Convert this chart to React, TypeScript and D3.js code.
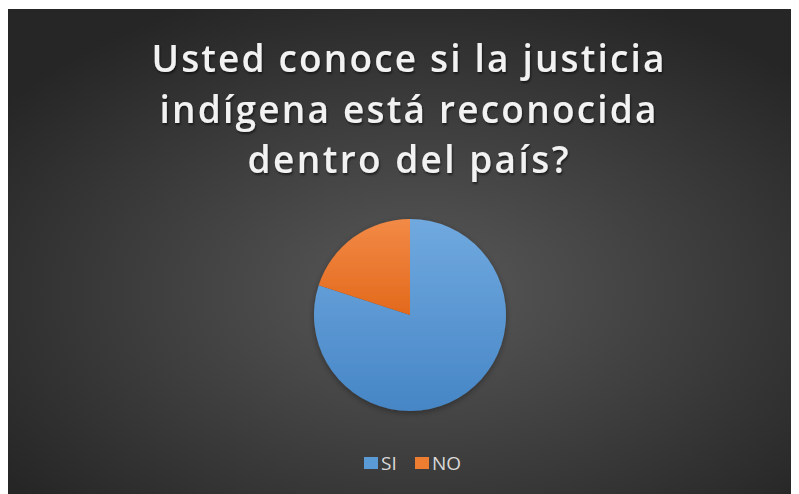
import React from "react";
import * as d3 from "d3";

const titleLines = ["Usted conoce si la justicia", "indígena está reconocida", "dentro del país?"];
const categories = ["SI", "NO"];
const values = [80, 20];
const colors = ["#5b9bd5", "#ed7d31"];
const colorsLight = ["#70a9df", "#f28a46"];
const colorsDark = ["#4686c6", "#e3691c"];

const W = 790;
const H = 486;
const titleWidths = [513, 497, 321];

export default function App() {
  const cx = 402;
  const cy = 307;
  const r = 96;
  const pie = d3.pie<number>().sort(null).value((d) => d);
  const arcs = pie(values);
  const arcGen = d3.arc<d3.PieArcDatum<number>>().innerRadius(0).outerRadius(r);

  const legendX = d3.scaleOrdinal<string, number>().domain(categories).range([356, 407]);

  return (
    <svg width={W} height={H} style={{ display: "block" }}>
      <defs>
        <radialGradient id="bg" cx="52%" cy="58%" r="65%">
          <stop offset="0%" stopColor="#595959" />
          <stop offset="100%" stopColor="#262626" />
        </radialGradient>
        {categories.map((c, i) => (
          <linearGradient key={c} id={`g${i}`} x1="0" y1="0" x2="0" y2="1">
            <stop offset="0%" stopColor={colorsLight[i]} />
            <stop offset="100%" stopColor={colorsDark[i]} />
          </linearGradient>
        ))}
        <filter id="ts" x="-10%" y="-20%" width="120%" height="150%">
          <feDropShadow dx="1" dy="2" stdDeviation="1.2" floodColor="#000" floodOpacity="0.55" />
        </filter>
        <filter id="ps" x="-20%" y="-20%" width="140%" height="140%">
          <feDropShadow dx="0" dy="2" stdDeviation="3" floodColor="#000" floodOpacity="0.35" />
        </filter>
      </defs>
      <rect x={0} y={1} width={W} height={H - 1} fill="url(#bg)" />
      {titleLines.map((t, i) => (
        <text
          key={i}
          x={400}
          y={64 + i * 50.5}
          textAnchor="middle"
          fontFamily="'Open Sans', sans-serif"
          fontWeight={650}
          fontSize={37}
          fill="#f2f2f2"
          textLength={titleWidths[i]}
          lengthAdjust="spacing"
          filter="url(#ts)"
        >
          {t}
        </text>
      ))}
      <g transform={`translate(${cx},${cy})`} filter="url(#ps)">
        {arcs.map((a, i) => (
          <path key={i} d={arcGen(a) || ""} fill={`url(#g${i})`} />
        ))}
      </g>
      {categories.map((c, i) => (
        <g key={c}>
          <rect x={legendX(c)} y={449} width={14} height={12} fill={colors[i]} />
          <text
            x={legendX(c) + 17}
            y={462}
            fontFamily="'Open Sans', sans-serif"
            fontSize={19}
            fill="#d9d9d9"
          >
            {c}
          </text>
        </g>
      ))}
    </svg>
  );
}
